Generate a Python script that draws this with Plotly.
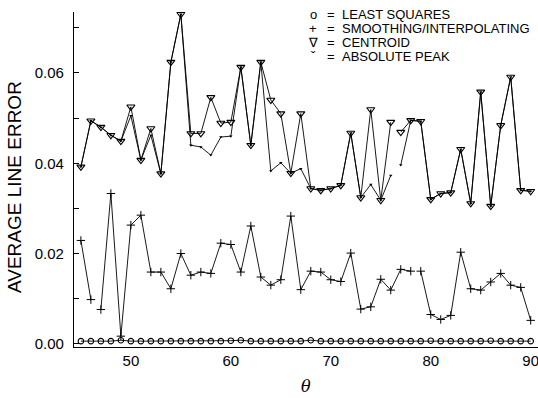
import plotly.graph_objects as go

# Scan angle theta (degrees)
theta = list(range(45, 91))

# Average line error for each method
least_squares = [
    0.0006, 0.0006, 0.0006, 0.0006, 0.0008, 0.0006, 0.0006, 0.0006, 0.0006, 0.0006,
    0.0006, 0.0006, 0.0006, 0.0006, 0.0006, 0.0007, 0.0008, 0.0006, 0.0006, 0.0006,
    0.0006, 0.0006, 0.0006, 0.0008, 0.0006, 0.0006, 0.0006, 0.0006, 0.0006, 0.0006,
    0.0006, 0.0006, 0.0006, 0.0006, 0.0006, 0.0007, 0.0006, 0.0006, 0.0006, 0.0006,
    0.0006, 0.0007, 0.0006, 0.0006, 0.0006, 0.0006,
]
smoothing = [
    0.0229, 0.0098, 0.0076, 0.0333, 0.0017, 0.0263, 0.0285, 0.0159, 0.0159, 0.0122,
    0.0200, 0.0152, 0.0159, 0.0156, 0.0223, 0.0220, 0.0159, 0.0261, 0.0148, 0.0130,
    0.0142, 0.0283, 0.0120, 0.0161, 0.0159, 0.0142, 0.0138, 0.0201, 0.0077, 0.0082,
    0.0143, 0.0119, 0.0165, 0.0161, 0.0161, 0.0065, 0.0054, 0.0063, 0.0203, 0.0122,
    0.0119, 0.0137, 0.0156, 0.0130, 0.0125, 0.0052,
]
centroid = [
    0.0392, 0.0494, 0.0480, 0.0462, 0.0449, 0.0525, 0.0407, 0.0477, 0.0377, 0.0624,
    0.0730, 0.0466, 0.0466, 0.0546, 0.0489, 0.0491, 0.0613, 0.0440, 0.0624, 0.0540,
    0.0510, 0.0378, 0.0510, 0.0344, 0.0340, 0.0344, 0.0351, 0.0467, 0.0324, 0.0519,
    0.0318, 0.0491, 0.0469, 0.0495, 0.0493, 0.0320, 0.0333, 0.0335, 0.0431, 0.0311,
    0.0558, 0.0305, 0.0484, 0.0591, 0.0340, 0.0338,
]
absolute_peak = [
    0.0392, 0.0494, 0.0480, 0.0462, 0.0449, 0.0505, 0.0407, 0.0462, 0.0377, 0.0624,
    0.0730, 0.0440, 0.0436, 0.0418, 0.0458, 0.0460, 0.0613, 0.0440, 0.0624, 0.0383,
    0.0401, 0.0378, 0.0388, 0.0344, 0.0340, 0.0344, 0.0351, 0.0467, 0.0324, 0.0353,
    0.0318, 0.0373, 0.0396, 0.0495, 0.0493, 0.0320, 0.0333, 0.0335, 0.0431, 0.0311,
    0.0558, 0.0305, 0.0484, 0.0591, 0.0340, 0.0338,
]

# Angles where a plotted curve is interrupted (no segment drawn into that point)
smoothing_breaks = [47, 79]
centroid_breaks = [77]
absolute_peak_breaks = [77]

x_ticks = [50, 60, 70, 80, 90]
y_ticks = [0.00, 0.02, 0.04, 0.06]

legend_rows = [
    ("o", "LEAST SQUARES"),
    ("+", "SMOOTHING/INTERPOLATING"),
    ("\u2207", "CENTROID"),
    ("\u02c7", "ABSOLUTE PEAK"),
]

FONT = "Liberation Sans, Arial, Helvetica, sans-serif"


def with_breaks(xs, ys, breaks):
    """Insert None before each break angle so the line is not drawn across it."""
    bx, by = [], []
    for xv, yv in zip(xs, ys):
        if xv in breaks:
            bx.append(None)
            by.append(None)
        bx.append(xv)
        by.append(yv)
    return bx, by


fig = go.Figure()

sx, sy = with_breaks(theta, smoothing, smoothing_breaks)
cx, cy = with_breaks(theta, centroid, centroid_breaks)
ax_, ay_ = with_breaks(theta, absolute_peak, absolute_peak_breaks)

fig.add_trace(go.Scatter(
    x=ax_, y=ay_, mode="lines+markers", name="ABSOLUTE PEAK",
    line=dict(color="black", width=0.9),
    marker=dict(symbol="triangle-down", size=3, color="black"),
    connectgaps=False,
))
fig.add_trace(go.Scatter(
    x=cx, y=cy, mode="lines+markers", name="CENTROID",
    line=dict(color="black", width=0.9),
    marker=dict(symbol="triangle-down-open", size=7, color="black",
                line=dict(width=1.1, color="black")),
    connectgaps=False,
))
fig.add_trace(go.Scatter(
    x=sx, y=sy, mode="lines+markers", name="SMOOTHING/INTERPOLATING",
    line=dict(color="black", width=0.9),
    marker=dict(symbol="cross-thin-open", size=6, color="black",
                line=dict(width=1, color="black")),
    connectgaps=False,
))
fig.add_trace(go.Scatter(
    x=theta, y=least_squares, mode="lines+markers", name="LEAST SQUARES",
    line=dict(color="black", width=0.9),
    marker=dict(symbol="circle-open", size=5.5, color="black",
                line=dict(width=1.1, color="black")),
))

# Key in the upper right corner
row_y = [15, 28.5, 43, 57]
for (sym, label), yp in zip(legend_rows, row_y):
    yy = 1 - (yp - 12) / 335
    fig.add_annotation(x=(313 - 74) / 464, y=yy, xref="paper", yref="paper",
                       text=sym, showarrow=False, xanchor="center", yanchor="middle",
                       font=dict(family=FONT, size=13, color="black"))
    fig.add_annotation(x=(331 - 74) / 464, y=yy, xref="paper", yref="paper",
                       text="=", showarrow=False, xanchor="center", yanchor="middle",
                       font=dict(family=FONT, size=13, color="black"))
    fig.add_annotation(x=(340 - 74) / 464, y=yy, xref="paper", yref="paper",
                       text=label, showarrow=False, xanchor="left", yanchor="middle",
                       font=dict(family=FONT, size=13, color="black"))

# Axis titles
fig.add_annotation(x=(15 - 74) / 464, y=1 - (187 - 12) / 335, xref="paper", yref="paper",
                   text="AVERAGE LINE ERROR", textangle=-90, showarrow=False,
                   xanchor="center", yanchor="middle",
                   font=dict(family=FONT, size=19, color="black"))
fig.add_annotation(x=(306 - 74) / 464, y=1 - (386 - 12) / 335, xref="paper", yref="paper",
                   text="<i>\u03b8</i>", showarrow=False,
                   xanchor="center", yanchor="middle",
                   font=dict(family="DejaVu Serif, Liberation Serif, serif", size=16,
                             color="black"))

fig.update_layout(
    width=538, height=398,
    margin=dict(l=74, r=0, t=12, b=51),
    paper_bgcolor="white", plot_bgcolor="white",
    showlegend=False,
    font=dict(family=FONT, size=15, color="black"),
)
fig.update_xaxes(
    range=[44.31, 90.73], tickvals=x_ticks, ticktext=[str(v) for v in x_ticks],
    showline=True, linecolor="black", linewidth=1.3,
    showgrid=False, zeroline=False, ticks="", ticklabelstandoff=0,
    ticklabeloverflow="allow",
    tickfont=dict(family=FONT, size=15, color="black"),
)
fig.update_yaxes(
    range=[-0.0007, 0.0735], tickvals=y_ticks,
    ticktext=["%.2f" % v for v in y_ticks],
    showline=True, linecolor="black", linewidth=1.3,
    showgrid=False, zeroline=False,
    ticks="inside", ticklen=5, tickwidth=1, tickcolor="black",
    minor=dict(dtick=0.01, tick0=0, ticks="inside", ticklen=5, tickwidth=1,
               tickcolor="black", showgrid=False),
    ticklabelstandoff=6,
    tickfont=dict(family=FONT, size=15, color="black"),
)

fig.write_html("out.html")
